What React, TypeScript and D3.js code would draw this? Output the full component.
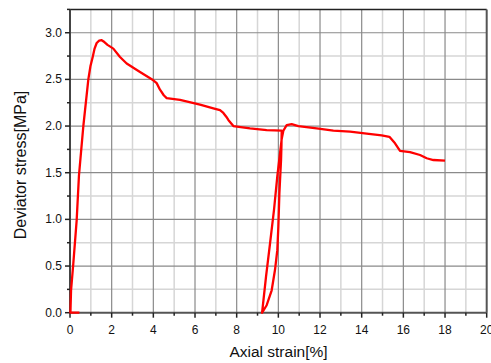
import React from "react";
import * as d3 from "d3";

const strain: number[] = [
  0.45, 0.02, 0.05, 0.16, 0.32, 0.43, 0.64, 0.88, 0.98, 1.09, 1.18, 1.28, 1.4, 1.52, 1.65, 1.8, 2.08, 2.4, 2.72,
  3.36, 4.0, 4.16, 4.32, 4.5, 4.64, 5.28, 6.24, 6.88, 7.2, 7.36, 7.5, 7.6, 7.84, 8.64, 9.44, 10.16,
  10.15, 10.13, 10.05, 10.0, 9.95, 9.84, 9.68, 9.44, 9.22,
  9.41, 9.6, 9.79, 9.95, 10.08, 10.16, 10.24, 10.4, 10.64, 10.96, 11.84, 12.64, 13.44, 14.24, 14.96, 15.33,
  15.6, 15.84, 16.32, 16.8, 17.12, 17.44, 18.0,
];
const stress: number[] = [
  0.0, 0.0, 0.24, 0.53, 0.99, 1.47, 2.0, 2.5, 2.64, 2.74, 2.83, 2.89, 2.915, 2.92, 2.9, 2.87, 2.83, 2.74, 2.67,
  2.58, 2.49, 2.46, 2.39, 2.33, 2.3, 2.28, 2.23, 2.19, 2.17, 2.14, 2.1, 2.065, 2.0, 1.975, 1.957, 1.95,
  1.8, 1.64, 1.28, 0.92, 0.67, 0.46, 0.24, 0.08, 0.0,
  0.39, 0.74, 1.1, 1.46, 1.71, 1.86, 1.95, 2.01, 2.02, 2.0, 1.975, 1.95, 1.94, 1.92, 1.9, 1.885,
  1.815, 1.735, 1.72, 1.69, 1.655, 1.636, 1.63,
];
const xTicks: number[] = [0, 2, 4, 6, 8, 10, 12, 14, 16, 18, 20];
const yTicks: number[] = [0, 0.5, 1.0, 1.5, 2.0, 2.5, 3.0];

export default function App() {
  const W = 491, H = 363;
  const left = 70, right = 486.7, top = 9.4, bottom = 312.7;
  const x = d3.scaleLinear().domain([0, 20]).range([left, right]);
  const y = d3.scaleLinear().domain([0, 3.25]).range([bottom, top]);
  const data = strain.map((s, i) => [s, stress[i]] as [number, number]);
  const line = d3.line<[number, number]>().x(d => x(d[0])).y(d => y(d[1])).curve(d3.curveLinear);
  const xMinor = d3.range(1, 20, 2);
  const xMajor = d3.range(2, 20, 2);
  const yMinor = d3.range(0.25, 3.25, 0.5);
  const yMajor = d3.range(0.5, 3.01, 0.5);
  const font = "'Liberation Sans', Arial, sans-serif";
  return (
    <svg width={W} height={H} style={{ position: "absolute", left: 0, top: 0, background: "#fff" }}>
      {xMinor.map(v => <line key={"xm" + v} x1={x(v)} x2={x(v)} y1={top} y2={bottom} stroke="#d6d6d6" strokeWidth={1.5} />)}
      {yMinor.map(v => <line key={"ym" + v} x1={left} x2={right} y1={y(v)} y2={y(v)} stroke="#d6d6d6" strokeWidth={1.5} />)}
      {xMajor.map(v => <line key={"xM" + v} x1={x(v)} x2={x(v)} y1={top} y2={bottom} stroke="#8a8a8a" strokeWidth={1.2} />)}
      {yMajor.map(v => <line key={"yM" + v} x1={left} x2={right} y1={y(v)} y2={y(v)} stroke="#8a8a8a" strokeWidth={1.2} />)}
      <line x1={left} x2={right} y1={top} y2={top} stroke="#222" strokeWidth={1.5} />
      <line x1={right} x2={right} y1={top} y2={bottom} stroke="#555" strokeWidth={2} />
      <line x1={left} x2={left} y1={top} y2={bottom} stroke="#444" strokeWidth={2} />
      <line x1={left} x2={right} y1={bottom} y2={bottom} stroke="#555" strokeWidth={2} />
      {d3.range(0, 21, 1).map(v => <line key={"xt" + v} x1={x(v)} x2={x(v)} y1={bottom} y2={bottom + (v % 2 === 0 ? 5 : 3)} stroke="#222" strokeWidth={1.5} />)}
      {d3.range(0, 3.26, 0.25).map(v => <line key={"yt" + v} x1={left} x2={left - (Math.round(v * 4) % 2 === 0 ? 5 : 3)} y1={y(v)} y2={y(v)} stroke="#222" strokeWidth={1.5} />)}
      {xTicks.map(v => <text key={"xl" + v} x={x(v)} y={bottom + 21} textAnchor="middle" fontFamily={font} fontSize={12} fill="#111">{v}</text>)}
      {yTicks.map(v => <text key={"yl" + v} x={left - 8} y={y(v) + 4} textAnchor="end" fontFamily={font} fontSize={12} fill="#111">{v.toFixed(1)}</text>)}
      <path d={line(data) || ""} fill="none" stroke="#ff0000" strokeWidth={2.3} strokeLinejoin="round" />
      <text x={278.5} y={357} textAnchor="middle" fontFamily={font} fontSize={15.5} fill="#111">Axial strain[%]</text>
      <text transform={`translate(26,165) rotate(-90)`} textAnchor="middle" fontFamily={font} fontSize={16} fill="#111">Deviator stress[MPa]</text>
    </svg>
  );
}
